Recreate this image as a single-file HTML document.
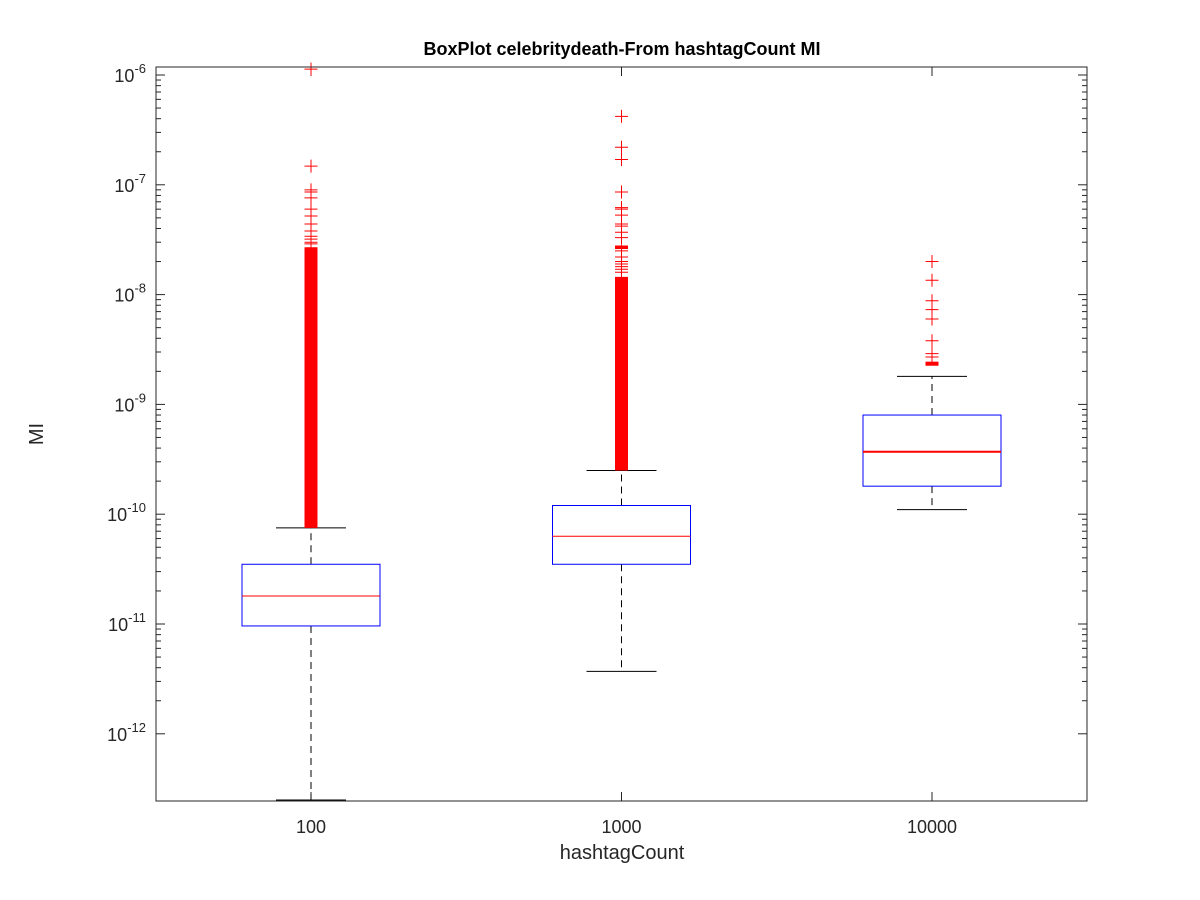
<!DOCTYPE html>
<html><head><meta charset="utf-8"><style>
body{margin:0;background:#fff}
svg{display:block;font-family:"Liberation Sans","DejaVu Sans",sans-serif}
</style></head><body>
<svg id="chart" width="1200" height="900"></svg>
<script>
const categories=["100","1000","10000"];
const q1=[9.6e-12,3.5e-11,1.8e-10];
const medians=[1.8e-11,6.3e-11,3.7e-10];
const q3=[3.5e-11,1.2e-10,8.0e-10];
const whiskLo=[2.4e-13,3.7e-12,1.1e-10];
const whiskHi=[7.5e-11,2.5e-10,1.8e-9];
const denseLo=[7.5e-11,2.5e-10,2.25e-9];
const denseHi=[2.7e-8,1.45e-8,2.45e-9];
const blockLo=[null,2.6e-8,null];
const blockHi=[null,2.8e-8,null];
const outliers=[
 [1.13e-6,1.48e-7,9.0e-8,8.6e-8,7.6e-8,6.0e-8,5.2e-8,4.4e-8,3.8e-8,3.4e-8,3.2e-8,3.0e-8,2.9e-8],
 [4.2e-7,2.2e-7,1.7e-7,8.6e-8,6.2e-8,6.0e-8,5.3e-8,4.4e-8,4.2e-8,3.7e-8,3.3e-8,2.5e-8,2.2e-8,2.0e-8,1.9e-8,1.8e-8,1.7e-8,1.6e-8],
 [2.0e-8,1.35e-8,8.8e-9,7.3e-9,6.0e-9,3.8e-9,2.9e-9,2.7e-9]
];
const yTicks=[-12,-11,-10,-9,-8,-7,-6];
const L=156,R=1087,T=67,B=801;
const y=v=>75+(-6-Math.log10(v))*109.8;
const x=i=>311+i*310.5;
const halfW=69;
const NS="http://www.w3.org/2000/svg";
const svg=document.getElementById("chart");
function mk(t,a){const e=document.createElementNS(NS,t);for(const k in a)e.setAttribute(k,a[k]);svg.appendChild(e);return e;}
let e=mk("rect",{x:L,y:T,width:R-L,height:B-T,fill:"#fff",stroke:"none"});


yTicks.forEach(p=>{
 for(let m=1;m<=9;m++){
  const v=m*Math.pow(10,p);const yy=y(v);
  if(yy<T||yy>B)continue;
  const len=m===1?9:5;
  mk("line",{x1:L,x2:L+len,y1:yy,y2:yy,stroke:"#262626","stroke-width":1});
  mk("line",{x1:R,x2:R-len,y1:yy,y2:yy,stroke:"#262626","stroke-width":1});
 }
 const yy=y(Math.pow(10,p));
 const t=mk("text",{x:L-10,y:yy+7,"text-anchor":"end","font-size":18,fill:"#262626"});
 
 
 t.innerHTML='10<tspan dy="-9" font-size="13">'+p+'</tspan>';
});
categories.forEach((c,i)=>{
 mk("line",{x1:x(i),x2:x(i),y1:B,y2:B-9,stroke:"#262626"});
 mk("line",{x1:x(i),x2:x(i),y1:T,y2:T+9,stroke:"#262626"});
 const t=mk("text",{x:x(i),y:833,"text-anchor":"middle","font-size":18,fill:"#262626"});
 
 
 t.textContent=c;
});
categories.forEach((c,i)=>{
 const cx=x(i);
 let w=mk("line",{x1:cx,x2:cx,y1:y(q3[i]),y2:y(whiskHi[i]),stroke:"#000","stroke-dasharray":"7,5"});
 
 
 w=mk("line",{x1:cx,x2:cx,y1:y(q1[i]),y2:Math.min(B,y(whiskLo[i])),stroke:"#000","stroke-dasharray":"7,5"});
 
 
 mk("line",{x1:cx-35,x2:cx+35,y1:y(whiskHi[i]),y2:y(whiskHi[i]),stroke:"#000"});
 mk("line",{x1:cx-35,x2:cx+35,y1:Math.min(B-1,y(whiskLo[i])),y2:Math.min(B-1,y(whiskLo[i])),stroke:"#000"});
 const b=mk("rect",{x:cx-halfW,y:y(q3[i]),width:2*halfW,height:y(q1[i])-y(q3[i]),fill:"none",stroke:"#0000ff"});
 
 
 const m=mk("line",{x1:cx-halfW,x2:cx+halfW,y1:y(medians[i]),y2:y(medians[i]),stroke:"#ff0000","stroke-width":i===2?2:1});
 
 
 const d=mk("rect",{x:cx-6.5,y:y(denseHi[i]),width:13,height:y(denseLo[i])-y(denseHi[i]),fill:"#ff0000"});
 
 
 if(blockLo[i]){
  const bk=mk("rect",{x:cx-6.5,y:y(blockHi[i]),width:13,height:y(blockLo[i])-y(blockHi[i]),fill:"#ff0000"});
  
  
 }
 outliers[i].forEach(v=>{
  const yy=y(v);
  const p=mk("path",{d:`M${cx-6.5} ${yy}H${cx+6.5}M${cx} ${yy-6.5}V${yy+6.5}`,stroke:"#ff0000","stroke-width":1});
  
  
 });
});
e=mk("rect",{x:L,y:T,width:R-L,height:B-T,fill:"none",stroke:"#262626"});


let t=mk("text",{x:622,y:55,"text-anchor":"middle","font-size":18,"font-weight":"bold",fill:"#000"});


t.textContent="BoxPlot celebritydeath-From hashtagCount MI";
t=mk("text",{x:622,y:859,"text-anchor":"middle","font-size":20,fill:"#262626"});


t.textContent="hashtagCount";
t=mk("text",{x:0,y:0,"text-anchor":"middle","font-size":20,fill:"#262626",transform:"translate(43,434) rotate(-90)"});


t.textContent="MI";
</script>
</body></html>
